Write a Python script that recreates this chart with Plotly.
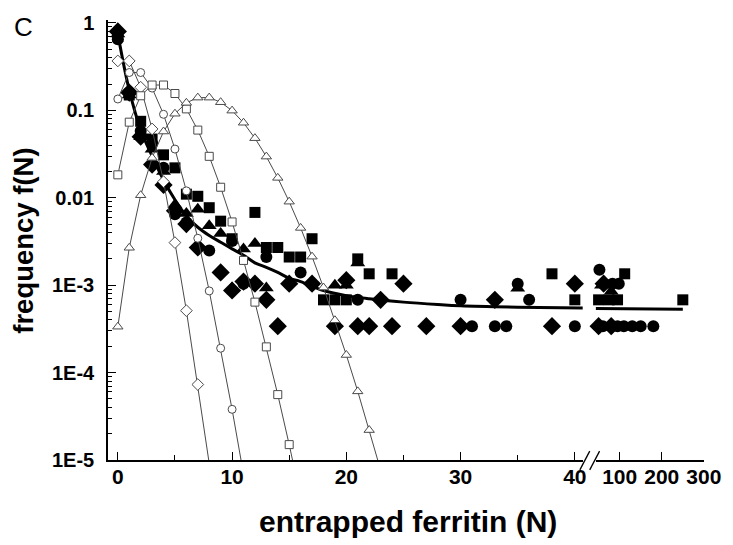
import plotly.graph_objects as go

# ---------------- data ----------------
# Poisson reference curves (open symbols)
pd_n = [0, 1, 2, 3, 4, 5, 6, 7, 8]
pd_f = [0.368, 0.368, 0.184, 0.0613, 0.0153, 0.00307, 5.11e-4, 7.3e-5, 9.1e-6]
pc_n = [0, 1, 2, 3, 4, 5, 6, 7, 8, 9, 10, 11]
pc_f = [0.135, 0.271, 0.271, 0.180, 0.0902, 0.0361, 0.0120, 0.00344, 8.6e-4, 1.9e-4, 3.8e-5, 6.9e-6]
ps_n = [0, 1, 2, 3, 4, 5, 6, 7, 8, 9, 10, 11, 12, 13, 14, 15, 16]
ps_f = [0.0183, 0.0733, 0.147, 0.195, 0.195, 0.156, 0.104, 0.0595, 0.0298, 0.0132,
        0.00529, 0.00192, 6.4e-4, 1.97e-4, 5.6e-5, 1.5e-5, 3.7e-6]
pt_n = [0, 1, 2, 3, 4, 5, 6, 7, 8, 9, 10, 11, 12, 13, 14, 15, 16, 17, 18, 19, 20, 21, 22, 23]
pt_f = [3.35e-4, 0.00268, 0.0107, 0.0286, 0.0573, 0.0916, 0.122, 0.140, 0.140, 0.124,
        0.0993, 0.0722, 0.0481, 0.0296, 0.0169, 0.00903, 0.00452, 0.00212, 9.4e-4,
        3.97e-4, 1.59e-4, 6.1e-5, 2.2e-5, 7.7e-6]

# measured data (filled symbols), first axis segment (0-40) and second segment (>40)
sq_n = [0, 1, 2, 3, 4, 5, 6, 7, 8, 9, 10, 12, 13, 14, 15, 16, 17, 18, 19, 20, 21, 22, 24, 38, 40]
sq_f = [0.70, 0.15, 0.075, 0.047, 0.031, 0.022, 0.011, 0.0104, 0.0077, 0.0054, 0.0034,
        0.0068, 0.0027, 0.0027, 0.0021, 0.0021, 0.0034, 0.00068, 0.00068, 0.00068,
        0.0020, 0.00135, 0.00135, 0.00135, 0.00068]
sq_n2 = [50, 75, 95, 112, 250]
sq_f2 = [0.00068, 0.00068, 0.00068, 0.00135, 0.00068]

ci_n = [0, 1, 2, 3, 4, 5, 6, 8, 10, 11, 13, 16, 21, 30, 31, 33, 34, 35, 36, 40]
ci_f = [0.65, 0.16, 0.058, 0.042, 0.022, 0.0065, 0.0052, 0.0025, 0.0032, 0.00104,
        0.0021, 0.0014, 0.00068, 0.00068, 0.00034, 0.00034, 0.00034, 0.00104, 0.00068, 0.00034]
ci_n2 = [52, 60, 83, 98, 95, 110, 130, 150, 180]
ci_f2 = [0.0015, 0.00034, 0.00104, 0.00104, 0.00034, 0.00034, 0.00034, 0.00034, 0.00034]

tr_n = [0, 1, 2, 3, 4, 5, 6, 7, 8, 9, 10, 11, 12, 13, 19, 20, 21, 35]
tr_f = [0.75, 0.15, 0.05, 0.036, 0.02, 0.0083, 0.0066, 0.0074, 0.0048, 0.0039,
        0.00093, 0.0026, 0.0030, 0.00093, 0.0010, 0.0010, 0.0018, 0.00092]
tr_n2 = [57, 80]
tr_f2 = [0.0010, 0.00085]

di_n = [0, 1, 2, 3, 4, 5, 6, 7, 9, 10, 11, 12, 13, 14, 15, 17, 19, 20, 21, 22, 23, 24,
        25, 27, 30, 33, 38, 40]
di_f = [0.80, 0.16, 0.05, 0.024, 0.014, 0.0071, 0.005, 0.0027, 0.0014, 0.00087, 0.0011,
        0.00104, 0.00068, 0.00034, 0.00104, 0.00104, 0.00034, 0.00114, 0.00034, 0.00034,
        0.00068, 0.00034, 0.00104, 0.00034, 0.00034, 0.00068, 0.00034, 0.00104]
di_n2 = [50, 62, 80]
di_f2 = [0.00034, 0.00104, 0.00034]

# fitted curve
fit_n = [0, 1, 2, 3, 4, 5, 6, 7, 8, 9, 10, 11, 12, 13, 14, 15, 16, 18, 20, 22, 25, 28, 30, 35, 40.7]
fit_f = [0.75, 0.17, 0.06, 0.03, 0.016, 0.0095, 0.0062, 0.0046, 0.0037, 0.0031, 0.0026,
         0.0022, 0.0018, 0.0016, 0.0014, 0.0012, 0.0011, 0.00087, 0.00076, 0.0007,
         0.00064, 0.0006, 0.00058, 0.00056, 0.00055]
fit_n2 = [43, 250]
fit_f2 = [0.00054, 0.00053]

y_ticks = [1, 0.1, 0.01, 1e-3, 1e-4, 1e-5]
y_labels = ["1", "0.1", "0.01", "1E-3", "1E-4", "1E-5"]
x1_ticks = [0, 10, 20, 30, 40]
x2_ticks = [100, 200, 300]

# ---------------- figure ----------------
W, H = 733, 545
# plot area in page pixels: x 108..713, y 15..460
PX0, PX1, PY0, PY1 = 108, 713, 15, 460
L, R, T, B = PX0, W - PX1, PY0, H - PY1
PW, PH = PX1 - PX0, PY1 - PY0


def px(xp):
    return (xp - PX0) / PW


def py(yp):
    return (PY1 - yp) / PH


FONT = "Liberation Sans, Arial, sans-serif"
fig = go.Figure()


def filled(n, f, n2, f2, sym, size):
    fig.add_trace(go.Scatter(x=n, y=f, mode="markers", xaxis="x", yaxis="y",
                             marker=dict(symbol=sym, size=size, color="black"),
                             cliponaxis=False, showlegend=False))
    fig.add_trace(go.Scatter(x=n2, y=f2, mode="markers", xaxis="x2", yaxis="y",
                             marker=dict(symbol=sym, size=size, color="black"),
                             cliponaxis=False, showlegend=False))


filled(sq_n, sq_f, sq_n2, sq_f2, "square", 11)
filled(ci_n, ci_f, ci_n2, ci_f2, "circle", 12)
filled(tr_n, tr_f, tr_n2, tr_f2, "triangle-up", 13)
filled(di_n, di_f, di_n2, di_f2, "diamond", 14)

fig.add_trace(go.Scatter(x=fit_n, y=fit_f, mode="lines", xaxis="x", yaxis="y",
                         line=dict(color="black", width=3, shape="spline"), showlegend=False))
fig.add_trace(go.Scatter(x=fit_n2, y=fit_f2, mode="lines", xaxis="x2", yaxis="y",
                         line=dict(color="black", width=3), showlegend=False))

for n, f, sym, size in [(pd_n, pd_f, "diamond", 9), (pc_n, pc_f, "circle", 8),
                        (ps_n, ps_f, "square", 8), (pt_n, pt_f, "triangle-up", 9)]:
    fig.add_trace(go.Scatter(x=n, y=f, mode="lines+markers", xaxis="x", yaxis="y",
                             line=dict(color="#4a4a4a", width=1),
                             marker=dict(symbol=sym, size=size, color="white",
                                         line=dict(color="#4a4a4a", width=1)),
                             showlegend=False))

axis_common = dict(showline=True, linecolor="black", linewidth=1.5, showgrid=False,
                   zeroline=False, ticks="inside", ticklen=8, tickwidth=1.3,
                   tickcolor="black", mirror=False, ticklabeloverflow="allow")

minor_y = []
for e in [1e-5, 1e-4, 1e-3, 1e-2, 1e-1]:
    for k in range(2, 10):
        minor_y.append(k * e)

d1_end = px(590)
d2_start = px(603)

xfont = dict(family=FONT, size=21, color="black", weight="bold")
yfont = dict(family=FONT, size=20, color="black", weight="bold")

fig.update_layout(
    width=W, height=H, margin=dict(l=L, r=R, t=T, b=B),
    paper_bgcolor="white", plot_bgcolor="white",
    xaxis=dict(domain=[0, d1_end], range=[-0.86, 40.7], tickmode="array",
               tickvals=x1_ticks, ticklabelstandoff=-3, tickfont=xfont,
               minor=dict(tickmode="array", tickvals=[5, 15, 25, 35], ticks="inside",
                          ticklen=5, tickcolor="black", showgrid=False),
               anchor="y", **axis_common),
    xaxis2=dict(domain=[d2_start, 1], range=[43, 300.3], tickmode="array",
                tickvals=x2_ticks, ticklabelstandoff=-3, tickfont=xfont,
                anchor="y", **axis_common),
    yaxis=dict(type="log", range=[-5, 0.034], tickmode="array", tickvals=y_ticks,
               ticktext=y_labels, ticklabelstandoff=8, anchor="x", tickfont=yfont,
               minor=dict(tickmode="array", tickvals=minor_y, ticks="inside",
                          ticklen=4, tickcolor="black", showgrid=False),
               **axis_common),
)

# axis-break marks
for x0, x1 in [(587, 597), (597, 607)]:
    fig.add_shape(type="line", xref="paper", yref="paper",
                  x0=px(x0), y0=py(470), x1=px(x1), y1=py(451),
                  line=dict(color="black", width=1.3))

fig.add_annotation(text="C", xref="paper", yref="paper", x=px(22), y=py(22),
                   showarrow=False, xanchor="center", yanchor="middle",
                   font=dict(family=FONT, size=26, color="black"))
fig.add_annotation(text="frequency f(N)", xref="paper", yref="paper", x=px(22), y=py(238),
                   showarrow=False, textangle=-90, xanchor="center", yanchor="middle",
                   font=dict(family=FONT, size=27.5, color="black", weight="bold"))
fig.add_annotation(text="entrapped ferritin (N)", xref="paper", yref="paper",
                   x=px(413), y=py(522), showarrow=False, xanchor="center", yanchor="middle",
                   font=dict(family=FONT, size=30, color="black", weight="bold"))

fig.write_html(
    "out.html",
    config={"displayModeBar": False},
    post_script="document.body.style.margin='0';document.body.style.overflow='hidden';",
)
